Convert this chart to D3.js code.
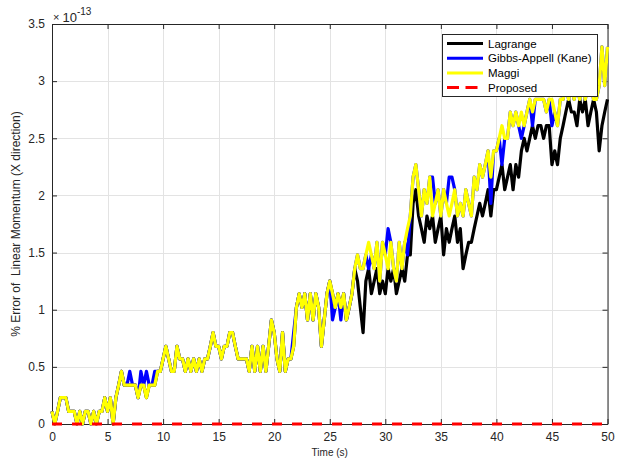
<!DOCTYPE html>
<html>
<head>
<meta charset="utf-8">
<script src="https://cdn.jsdelivr.net/npm/d3@7"></script>
<style>
  body { margin: 0; background: #fff; }
  svg { display: block; font-family: "Liberation Sans", Arial, sans-serif; }
</style>
</head>
<body>
<svg width="617" height="464"></svg>
<script>
// values are in units of 1e-13 (% error), sampled every 0.25 s from 0 to 50 s
var xTicks = [0, 5, 10, 15, 20, 25, 30, 35, 40, 45, 50];
var yTicks = [0, 0.5, 1, 1.5, 2, 2.5, 3, 3.5];
var seriesNames = ["Lagrange", "Gibbs-Appell (Kane)", "Maggi", "Proposed"];

var maggi = [
  0.11,0,0.11,0.23, 0.23,0.23,0.11,0.11, 0.11,0,0.11,0, 0.11,0.11,0,0.11, 0,0.11,0.11,0.23,
  0.11,0.23,0,0.23, 0.34,0.46,0.34,0.34, 0.34,0.34,0.34,0.23, 0.34,0.34,0.23,0.34, 0.34,0.34,0.46,0.46,
  0.57,0.68,0.57,0.46, 0.46,0.68,0.57,0.57, 0.46,0.57,0.46,0.57, 0.46,0.57,0.46,0.57, 0.57,0.68,0.80,0.68,
  0.68,0.57,0.68,0.68, 0.80,0.80,0.68,0.57, 0.57,0.57,0.57,0.46, 0.68,0.46,0.68,0.46, 0.68,0.46,0.68,0.91,
  0.80,0.57,0.46,0.80, 0.46,0.57,0.57,0.68, 1.02,1.14,1.02,1.14, 0.91,1.14,0.91,1.14, 1.02,0.68,0.91,1.14,
  1.25,1.14,1.02,1.14, 1.02,1.14,0.91,1.02, 1.14,1.36,1.48,1.36, 1.36,1.48,1.59,1.48, 1.36,1.59,1.25,1.59,
  1.48,1.36,1.59,1.36, 1.25,1.59,1.36,1.59, 1.71,1.82,2.16,2.27, 2.05,1.82,2.05,1.93, 2.16,1.82,1.93,2.05,
  1.82,2.05,1.93,1.82, 1.93,2.05,1.82,1.93, 1.82,2.05,1.93,1.82, 2.16,2.05,2.27,2.16, 2.27,2.39,2.16,2.39,
  2.39,2.50,2.61,2.50, 2.50,2.73,2.61,2.73, 2.61,2.73,2.61,2.73, 2.84,2.73,2.84,2.84, 2.84,2.84,2.73,2.84,
  2.84,2.73,2.61,2.84, 2.84,2.96,2.84,2.96, 2.84,2.96,2.84,2.96, 2.84,2.96,2.96,2.84, 2.84,2.96,3.30,2.96,
  3.30
];

var gibbs = [
  0.11,0,0.11,0.23, 0.23,0.23,0.11,0.11, 0.11,0,0.11,0, 0.11,0.11,0,0.11, 0,0.11,0.11,0.23,
  0.11,0.23,0,0.23, 0.34,0.46,0.34,0.34, 0.46,0.34,0.34,0.23, 0.46,0.34,0.46,0.34, 0.34,0.46,0.46,0.46,
  0.57,0.68,0.57,0.46, 0.46,0.68,0.57,0.57, 0.46,0.57,0.46,0.57, 0.46,0.57,0.46,0.57, 0.57,0.68,0.80,0.68,
  0.68,0.57,0.68,0.68, 0.80,0.80,0.68,0.57, 0.57,0.57,0.57,0.46, 0.68,0.46,0.68,0.46, 0.68,0.46,0.68,0.91,
  0.80,0.57,0.46,0.80, 0.46,0.57,0.57,0.80, 1.02,1.14,1.02,1.14, 0.91,1.14,0.91,1.14, 1.02,0.68,0.91,1.14,
  1.25,0.91,1.02,1.14, 0.91,1.14,0.91,1.02, 1.14,1.36,1.48,1.36, 1.36,1.48,1.36,1.48, 1.36,1.59,1.25,1.59,
  1.48,1.71,1.59,1.36, 1.25,1.59,1.36,1.59, 1.48,1.82,2.16,2.27, 2.05,1.82,2.05,1.93, 2.16,2.16,1.93,2.05,
  1.82,2.05,1.93,2.16, 2.16,2.05,1.82,1.93, 1.82,2.05,1.93,1.82, 2.16,2.05,2.27,2.16, 2.27,2.39,1.93,2.39,
  2.39,2.50,2.27,2.50, 2.50,2.73,2.61,2.73, 2.61,2.50,2.61,2.73, 2.84,2.61,2.84,2.84, 2.84,2.84,2.73,2.84,
  2.61,2.73,2.61,2.84, 2.84,2.96,2.84,2.96, 2.84,2.96,2.84,2.96, 2.84,2.96,2.96,2.84, 2.84,2.96,3.30,2.96,
  3.30
];

var lagrange = [
  0.11,0,0.11,0.23, 0.23,0.23,0.11,0.11, 0.11,0,0.11,0, 0.11,0.11,0,0.11, 0,0.11,0.11,0.23,
  0.11,0.23,0,0.23, 0.34,0.46,0.34,0.34, 0.34,0.34,0.34,0.23, 0.34,0.34,0.23,0.34, 0.34,0.34,0.46,0.46,
  0.57,0.68,0.57,0.46, 0.46,0.68,0.57,0.57, 0.46,0.57,0.46,0.57, 0.46,0.57,0.46,0.57, 0.57,0.68,0.80,0.68,
  0.68,0.57,0.68,0.68, 0.80,0.80,0.68,0.57, 0.57,0.57,0.57,0.46, 0.68,0.46,0.68,0.46, 0.68,0.46,0.68,0.91,
  0.80,0.57,0.46,0.80, 0.46,0.57,0.57,0.68, 1.02,1.14,1.02,1.14, 0.91,1.14,0.91,1.14, 1.02,0.68,0.91,1.14,
  1.25,1.14,1.02,1.14, 1.02,1.14,0.91,1.02, 1.14,1.36,1.25,1.02, 0.80,1.25,1.36,1.14, 1.25,1.36,1.14,1.25,
  1.14,1.36,1.25,1.36, 1.14,1.25,1.36,1.25, 1.48,1.48,1.93,2.05, 1.82,1.71,1.59,1.82, 1.71,1.82,1.59,1.71,
  1.82,1.48,1.71,1.59, 1.71,1.82,1.59,1.71, 1.36,1.48,1.59,1.59, 1.71,1.82,1.93,1.82, 1.93,2.05,1.82,2.05,
  2.05,2.16,2.27,2.05, 2.16,2.27,2.05,2.27, 2.16,2.39,2.50,2.39, 2.50,2.61,2.50,2.61, 2.61,2.50,2.61,2.61,
  2.27,2.39,2.27,2.50, 2.61,2.73,2.84,2.73, 2.73,2.61,2.84,2.73, 2.84,2.61,2.73,2.84, 2.73,2.39,2.61,2.73,
  2.84
];

var proposedTime = [0, 50];
var proposed = [0, 0];

var time = d3.range(maggi.length).map(function(i) { return i * 0.25; });

var svg = d3.select("svg");
var plotL = 52, plotR = 607.5, plotT = 24, plotB = 424;

var x = d3.scaleLinear().domain([0, 50]).range([plotL, plotR]);
var y = d3.scaleLinear().domain([0, 3.5]).range([plotB, plotT]);

// grid
svg.append("g").selectAll("line").data(xTicks).enter().append("line")
   .attr("x1", d => Math.round(x(d)) + 0.5).attr("x2", d => Math.round(x(d)) + 0.5)
   .attr("y1", plotT).attr("y2", plotB)
   .attr("stroke", "#e3e3e3").attr("stroke-width", 1);
svg.append("g").selectAll("line").data(yTicks).enter().append("line")
   .attr("y1", d => Math.round(y(d)) + 0.5).attr("y2", d => Math.round(y(d)) + 0.5)
   .attr("x1", plotL).attr("x2", plotR)
   .attr("stroke", "#e3e3e3").attr("stroke-width", 1);

// axes (box with inward ticks)
var xAxis = d3.axisBottom(x).tickValues(xTicks).tickSizeInner(-5).tickSizeOuter(0).tickPadding(8);
var yAxis = d3.axisLeft(y).tickValues(yTicks).tickSizeInner(-5).tickSizeOuter(0).tickPadding(7)
    .tickFormat(d3.format(""));
var xTop = d3.axisTop(x).tickValues(xTicks).tickSizeInner(-5).tickSizeOuter(0).tickFormat("");
var yRight = d3.axisRight(y).tickValues(yTicks).tickSizeInner(-5).tickSizeOuter(0).tickFormat("");

function styleAxis(sel) {
  sel.selectAll("path").attr("stroke", "#262626").attr("stroke-width", 1);
  sel.selectAll("line").attr("stroke", "#262626").attr("stroke-width", 1);
  sel.selectAll("text").attr("fill", "#262626").style("font-size", "12px")
     .style("font-family", "'Liberation Sans', Arial, sans-serif");
}
svg.append("g").attr("transform", "translate(0," + plotB + ")").call(xAxis).call(styleAxis);
svg.append("g").attr("transform", "translate(" + plotL + ",0)").call(yAxis).call(styleAxis);
svg.append("g").attr("transform", "translate(0," + plotT + ")").call(xTop).call(styleAxis);
svg.append("g").attr("transform", "translate(" + plotR + ",0)").call(yRight).call(styleAxis);

// series
var line = d3.line()
    .x(function(d, i) { return x(time[i]); })
    .y(function(d) { return y(d); });

var g = svg.append("g");
g.append("path").datum(lagrange).attr("d", line)
 .attr("fill", "none").attr("stroke", "#000").attr("stroke-width", 3.2).attr("stroke-linejoin", "round");
g.append("path").datum(gibbs).attr("d", line)
 .attr("fill", "none").attr("stroke", "#0000ff").attr("stroke-width", 3.2).attr("stroke-linejoin", "round");
g.append("path").datum(maggi).attr("d", line)
 .attr("fill", "none").attr("stroke", "#ffff00").attr("stroke-width", 3.2).attr("stroke-linejoin", "round");

var propLine = d3.line()
    .x(function(d, i) { return x(proposedTime[i]); })
    .y(function(d) { return y(d); });
g.append("path").datum(proposed).attr("d", propLine)
 .attr("fill", "none").attr("stroke", "#ff0000").attr("stroke-width", 3)
 .attr("stroke-dasharray", "10,10");

// exponent
svg.append("text").attr("x", 53).attr("y", 21).attr("fill", "#262626")
   .style("font-size", "11px").text("\u00d7");
var ex = svg.append("text").attr("x", 62.5).attr("y", 21.5).attr("fill", "#262626")
   .style("font-size", "13px");
ex.append("tspan").text("10");
ex.append("tspan").attr("dy", -6.5).style("font-size", "10px").text("-13");

// axis labels
svg.append("text").attr("x", (plotL + plotR) / 2).attr("y", 456)
   .attr("text-anchor", "middle").attr("fill", "#262626").style("font-size", "10px")
   .text("Time (s)");
svg.append("text")
   .attr("transform", "translate(20," + (plotT + plotB) / 2 + ") rotate(-90)")
   .attr("text-anchor", "middle").attr("fill", "#262626").style("font-size", "12px")
   .style("white-space", "pre")
   .text("% Error of  Linear Momentum (X direction)");

// legend
var colors = ["#000", "#0000ff", "#ffff00", "#ff0000"];
var lg = svg.append("g");
lg.append("rect").attr("x", 442.5).attr("y", 34.5).attr("width", 155).attr("height", 62)
  .attr("fill", "#fff").attr("stroke", "#262626").attr("stroke-width", 1);
seriesNames.forEach(function(name, i) {
  var yy = 43.5 + i * 14.7;
  lg.append("line").attr("x1", 447).attr("x2", 483).attr("y1", yy).attr("y2", yy)
    .attr("stroke", colors[i]).attr("stroke-width", 3)
    .attr("stroke-dasharray", i == 3 ? "12,6.5" : null);
  lg.append("text").attr("x", 488).attr("y", yy + 4).attr("fill", "#000")
    .style("font-size", "11.5px").text(name);
});
</script>
</body>
</html>
